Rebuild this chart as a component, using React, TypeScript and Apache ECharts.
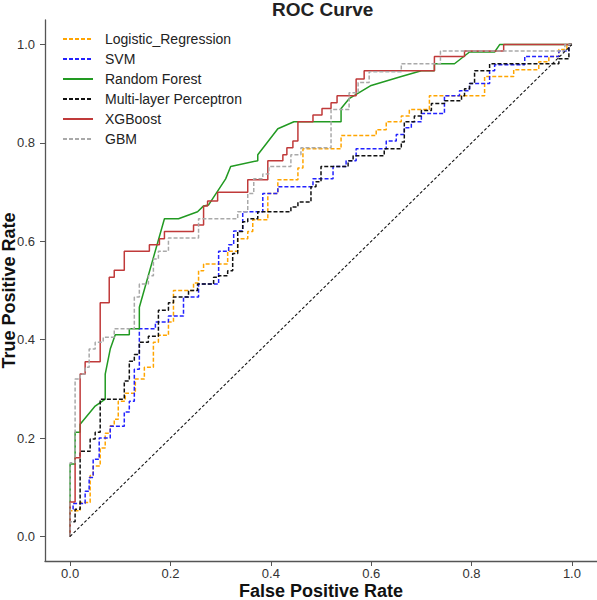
import React, { useEffect, useRef } from "react";
import * as echarts from "echarts";

const seriesNames = ["Logistic_Regression", "SVM", "Random Forest", "Multi-layer Perceptron", "XGBoost", "GBM"];
const tickValues = [0, 0.2, 0.4, 0.6, 0.8, 1.0];

const logisticRegression: number[][] = [
  [0,0],[0,0.052],[0.02,0.052],[0.02,0.069],[0.04,0.069],[0.04,0.124],[0.046,0.124],[0.046,0.143],[0.06,0.143],[0.06,0.18],[0.07,0.18],[0.07,0.21],[0.08,0.21],[0.08,0.225],[0.088,0.225],[0.088,0.238],[0.096,0.238],[0.096,0.275],[0.11,0.275],[0.11,0.291],[0.13,0.291],[0.13,0.32],[0.148,0.32],[0.148,0.344],[0.166,0.344],[0.166,0.395],[0.176,0.395],[0.176,0.409],[0.196,0.409],[0.196,0.436],[0.206,0.436],[0.206,0.5],[0.246,0.5],[0.246,0.515],[0.256,0.515],[0.256,0.54],[0.266,0.54],[0.266,0.554],[0.314,0.554],[0.314,0.58],[0.334,0.58],[0.334,0.605],[0.354,0.605],[0.354,0.62],[0.364,0.62],[0.364,0.644],[0.394,0.644],[0.394,0.697],[0.414,0.697],[0.414,0.725],[0.454,0.725],[0.454,0.749],[0.464,0.749],[0.464,0.788],[0.54,0.788],[0.54,0.815],[0.61,0.815],[0.61,0.827],[0.63,0.827],[0.63,0.843],[0.66,0.843],[0.66,0.855],[0.676,0.855],[0.676,0.868],[0.716,0.868],[0.716,0.896],[0.826,0.896],[0.826,0.935],[0.884,0.935],[0.884,0.949],[0.934,0.949],[0.934,0.965],[0.954,0.965],[0.954,0.976],[0.974,0.976],[0.974,0.99],[0.99,0.99],[0.99,1],[1,1]
];

const svm: number[][] = [
  [0,0],[0,0.055],[0.006,0.055],[0.006,0.067],[0.03,0.067],[0.03,0.092],[0.038,0.092],[0.038,0.12],[0.046,0.12],[0.046,0.157],[0.058,0.157],[0.058,0.2],[0.08,0.2],[0.08,0.224],[0.108,0.224],[0.108,0.253],[0.118,0.253],[0.118,0.275],[0.128,0.275],[0.128,0.34],[0.138,0.34],[0.138,0.422],[0.17,0.422],[0.17,0.436],[0.196,0.436],[0.196,0.448],[0.226,0.448],[0.226,0.487],[0.256,0.487],[0.256,0.513],[0.296,0.513],[0.296,0.58],[0.316,0.58],[0.316,0.593],[0.326,0.593],[0.326,0.621],[0.344,0.621],[0.344,0.66],[0.384,0.66],[0.384,0.697],[0.414,0.697],[0.414,0.711],[0.484,0.711],[0.484,0.727],[0.524,0.727],[0.524,0.752],[0.55,0.752],[0.55,0.764],[0.57,0.764],[0.57,0.788],[0.63,0.788],[0.63,0.804],[0.65,0.804],[0.65,0.817],[0.666,0.817],[0.666,0.831],[0.68,0.831],[0.68,0.843],[0.7,0.843],[0.7,0.86],[0.746,0.86],[0.746,0.896],[0.776,0.896],[0.776,0.906],[0.796,0.906],[0.796,0.921],[0.836,0.921],[0.836,0.947],[0.846,0.947],[0.846,0.959],[0.906,0.959],[0.906,0.976],[0.974,0.976],[0.974,0.987],[0.994,0.987],[0.994,1],[1,1]
];

const randomForest: number[][] = [
  [0,0],[0,0.147],[0.01,0.147],[0.01,0.212],[0.02,0.212],[0.02,0.228],[0.05,0.265],[0.07,0.279],[0.07,0.33],[0.08,0.381],[0.09,0.41],[0.118,0.41],[0.118,0.422],[0.138,0.422],[0.138,0.466],[0.188,0.646],[0.216,0.646],[0.254,0.66],[0.266,0.672],[0.276,0.674],[0.31,0.727],[0.32,0.752],[0.374,0.764],[0.374,0.776],[0.414,0.829],[0.446,0.843],[0.54,0.843],[0.54,0.87],[0.556,0.89],[0.6,0.917],[0.66,0.935],[0.7,0.947],[0.726,0.947],[0.726,0.961],[0.766,0.961],[0.796,0.985],[0.846,0.985],[0.856,1],[1,1]
];

const mlp: number[][] = [
  [0,0],[0,0.03],[0.01,0.03],[0.01,0.055],[0.02,0.055],[0.02,0.173],[0.04,0.173],[0.04,0.198],[0.05,0.198],[0.05,0.212],[0.06,0.212],[0.06,0.279],[0.108,0.279],[0.108,0.316],[0.118,0.316],[0.118,0.356],[0.128,0.356],[0.128,0.37],[0.138,0.37],[0.138,0.395],[0.156,0.395],[0.156,0.407],[0.176,0.407],[0.176,0.46],[0.196,0.46],[0.196,0.475],[0.206,0.475],[0.206,0.487],[0.236,0.487],[0.236,0.5],[0.254,0.5],[0.254,0.513],[0.286,0.513],[0.286,0.527],[0.296,0.527],[0.296,0.53],[0.314,0.53],[0.314,0.54],[0.324,0.54],[0.324,0.575],[0.334,0.575],[0.334,0.62],[0.344,0.62],[0.344,0.64],[0.354,0.64],[0.354,0.646],[0.374,0.646],[0.374,0.66],[0.44,0.66],[0.44,0.67],[0.454,0.67],[0.454,0.68],[0.48,0.68],[0.48,0.711],[0.49,0.711],[0.49,0.721],[0.5,0.721],[0.5,0.752],[0.554,0.752],[0.554,0.764],[0.564,0.764],[0.564,0.774],[0.626,0.774],[0.626,0.788],[0.66,0.788],[0.66,0.802],[0.666,0.802],[0.666,0.843],[0.686,0.843],[0.686,0.855],[0.7,0.855],[0.7,0.866],[0.72,0.866],[0.72,0.88],[0.746,0.88],[0.746,0.886],[0.78,0.886],[0.78,0.896],[0.786,0.896],[0.786,0.91],[0.796,0.91],[0.796,0.921],[0.806,0.921],[0.806,0.947],[0.836,0.947],[0.836,0.961],[0.974,0.961],[0.974,0.971],[0.994,0.971],[0.994,1],[1,1]
];

const xgboost: number[][] = [
  [0,0],[0,0.07],[0.01,0.07],[0.01,0.16],[0.02,0.16],[0.02,0.33],[0.03,0.33],[0.03,0.355],[0.06,0.355],[0.06,0.475],[0.078,0.475],[0.078,0.527],[0.088,0.527],[0.088,0.541],[0.108,0.541],[0.108,0.58],[0.158,0.58],[0.158,0.593],[0.178,0.593],[0.178,0.605],[0.188,0.605],[0.188,0.62],[0.246,0.62],[0.246,0.633],[0.266,0.633],[0.266,0.672],[0.274,0.672],[0.274,0.682],[0.294,0.682],[0.294,0.7],[0.354,0.7],[0.354,0.725],[0.394,0.725],[0.394,0.764],[0.424,0.764],[0.424,0.776],[0.432,0.776],[0.432,0.79],[0.444,0.79],[0.444,0.804],[0.454,0.804],[0.454,0.843],[0.484,0.843],[0.484,0.857],[0.502,0.857],[0.502,0.87],[0.52,0.87],[0.52,0.882],[0.532,0.882],[0.532,0.896],[0.57,0.896],[0.57,0.93],[0.586,0.93],[0.586,0.947],[0.726,0.947],[0.726,0.976],[0.786,0.976],[0.786,0.987],[0.864,0.987],[0.864,1],[1,1]
];

const gbm: number[][] = [
  [0,0],[0,0.15],[0.01,0.15],[0.01,0.32],[0.02,0.32],[0.02,0.33],[0.03,0.33],[0.03,0.344],[0.038,0.344],[0.038,0.381],[0.05,0.381],[0.05,0.395],[0.066,0.395],[0.066,0.405],[0.088,0.405],[0.088,0.422],[0.128,0.422],[0.128,0.487],[0.138,0.487],[0.138,0.513],[0.156,0.513],[0.156,0.53],[0.166,0.53],[0.166,0.564],[0.176,0.564],[0.176,0.58],[0.196,0.58],[0.196,0.607],[0.256,0.607],[0.256,0.646],[0.334,0.646],[0.334,0.66],[0.354,0.66],[0.354,0.697],[0.366,0.697],[0.366,0.727],[0.384,0.727],[0.384,0.737],[0.396,0.737],[0.396,0.752],[0.44,0.752],[0.44,0.776],[0.46,0.776],[0.46,0.79],[0.52,0.79],[0.52,0.868],[0.556,0.868],[0.556,0.902],[0.574,0.902],[0.574,0.923],[0.596,0.923],[0.596,0.945],[0.66,0.945],[0.66,0.961],[0.738,0.961],[0.738,0.987],[0.986,0.987],[0.986,1],[1,1]
];

const chanceLine: number[][] = [[0, 0], [1, 1]];

const seriesData = [logisticRegression, svm, randomForest, mlp, xgboost, gbm];
const seriesColors = ["#FFA500", "#2222FF", "#229A22", "#111111", "#C03A3A", "#A9A9A9"];
const seriesDashed = [true, true, false, true, false, true];

const FONT = "'Liberation Sans', Arial, Helvetica, sans-serif";

export default function App() {
  const ref = useRef<HTMLDivElement>(null);
  useEffect(() => {
    if (!ref.current) return;
    document.body.style.margin = "0";
    const chart = echarts.init(ref.current, null, { renderer: "svg" });
    const series: any[] = seriesNames.map((name, i) => ({
      name,
      type: "line",
      data: seriesData[i],
      symbol: "none",
      showSymbol: false,
      lineStyle: {
        color: seriesColors[i],
        width: 1.5,
        type: seriesDashed[i] ? [4, 2] : "solid",
      },
      itemStyle: { color: seriesColors[i] },
      z: 3,
    }));
    series.push({
      name: "chance",
      type: "line",
      data: chanceLine,
      symbol: "none",
      lineStyle: { color: "#111", width: 1.1, type: [3, 2] },
      z: 4,
      silent: true,
    });
    const axisCommon = {
      type: "value",
      min: -0.05,
      max: 1.05,
      splitLine: { show: false },
      axisLine: { show: true, onZero: false, lineStyle: { color: "#555", width: 1.3 } },
      axisTick: { show: true, length: 5, customValues: tickValues, lineStyle: { color: "#555", width: 1 } },
      axisLabel: {
        customValues: tickValues,
        formatter: (v: number) => v.toFixed(1),
        fontSize: 13,
        color: "#333",
        fontFamily: FONT,
      },
      nameLocation: "middle",
      nameMoveOverlap: false,
      nameTextStyle: { fontSize: 18, lineHeight: 14, fontWeight: "bold", color: "#111", fontFamily: FONT },
    };
    chart.setOption({
      animation: false,
      backgroundColor: "#fff",
      title: {
        text: "ROC Curve",
        left: 272,
        top: 0,
        padding: 0,
        textStyle: { fontSize: 19, fontWeight: "bold", color: "#222", fontFamily: FONT },
      },
      legend: {
        data: seriesNames,
        orient: "vertical",
        left: 57,
        top: 27,
        itemWidth: 30,
        itemHeight: 14,
        itemGap: 6,
        itemStyle: { opacity: 0 },
        textStyle: { fontSize: 14, color: "#222", fontFamily: FONT, padding: [0, 0, 0, 7] },
      },
      grid: { left: 45, right: 0, top: 20, bottom: 39, containLabel: false, outerBoundsMode: "none" },
      xAxis: { ...axisCommon, name: "False Positive Rate", nameGap: 23, axisLabel: { ...axisCommon.axisLabel, margin: 6 } },
      yAxis: { ...axisCommon, name: "True Positive Rate", nameGap: 29, axisLabel: { ...axisCommon.axisLabel, margin: 10 } },
      series,
    });
    return () => chart.dispose();
  }, []);
  return <div ref={ref} style={{ width: 597, height: 600 }} />;
}
